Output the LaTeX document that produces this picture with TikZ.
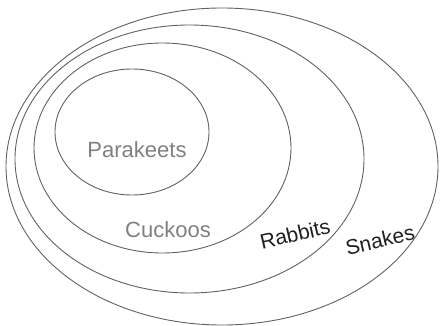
\documentclass[tikz,border=0pt]{standalone}
\usepackage{fontspec}
\setmainfont{Liberation Sans}
\begin{document}
\begin{tikzpicture}[x=1pt,y=-1pt,
  setring/.style={draw=black!62,line width=0.9pt},
  innerlabel/.style={text=black!50,font=\fontsize{22}{26}\selectfont,inner sep=0pt},
  outerlabel/.style={text=black!88,font=\fontsize{21}{25}\selectfont,inner sep=0pt,rotate=13}]
  \useasboundingbox (0,0) rectangle (441,326);
  % nested sets, outermost first
  \draw[setring] (222,166.5) ellipse [x radius=216,y radius=158.5];
  \draw[setring] (189.5,159) ellipse [x radius=174.5,y radius=134];
  \draw[setring] (162.5,148) ellipse [x radius=128.5,y radius=105];
  \draw[setring] (132,132) ellipse [x radius=77,y radius=63];
  % set labels
  \node[innerlabel] (parakeets) at (137,150) {Parakeets};
  \node[innerlabel] (cuckoos) at (168,230) {Cuckoos};
  \node[outerlabel] (rabbits) at (295,234) {Rabbits};
  \node[outerlabel] (snakes) at (380,240) {Snakes};
\end{tikzpicture}
\end{document}
